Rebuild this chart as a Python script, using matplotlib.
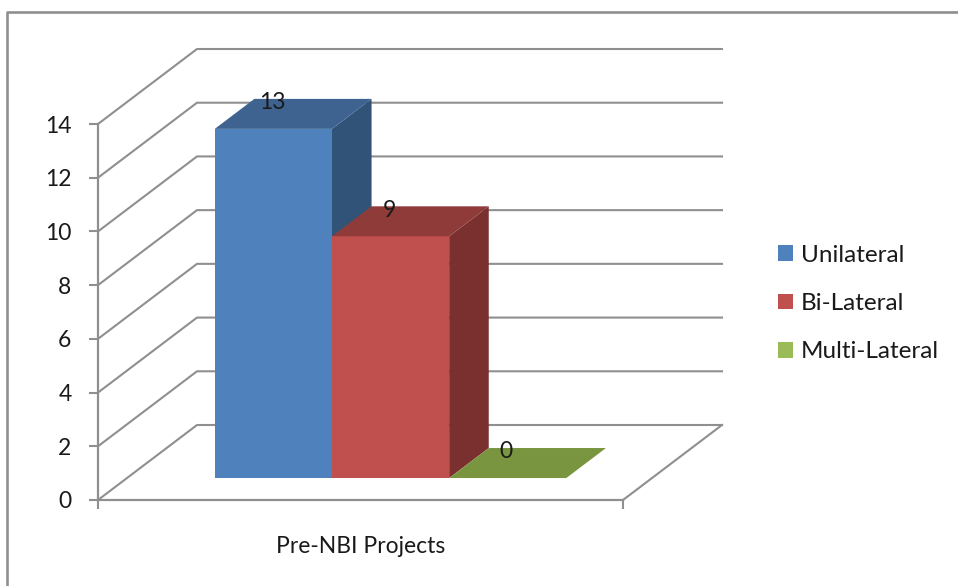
import matplotlib

matplotlib.use("Agg")

import matplotlib.pyplot as plt
from matplotlib.lines import Line2D
from matplotlib.patches import Patch, Polygon


OUTPUT_PATH = "out.png"

# Chart data
category_labels = ["Pre-NBI Projects"]
series_names = ["Unilateral", "Bi-Lateral", "Multi-Lateral"]
series_values = [13, 9, 0]
y_ticks = [0, 2, 4, 6, 8, 10, 12, 14]

# Colours
front_colors = ["#4f81bd", "#c0504d", "#9bbb59"]
top_colors = ["#3e6390", "#8e3b39", "#799540"]
side_colors = ["#325378", "#7a302e", "#62793a"]
GRID_COLOR = "#8f8f8f"
TEXT_COLOR = "#1a1a1a"

# Figure size and plot position in pixels
FIG_W = 958
FIG_H = 586
PLOT_LEFT = 98
PLOT_RIGHT = 623
PLOT_TOP = 124
PLOT_BOTTOM = 500

# The back wall sits this far from the front plane, in pixels
WALL_DX = 99
WALL_DY = 75

# Bars occupy this slice of the floor, 0 = front, 1 = back wall
BAR_FRONT = 0.293
BAR_BACK = 0.693
GAP_RATIO = 1.48
BAR_NUDGE = 0.002


def project(x, y, depth):
    """Shift a point of the front plane back by depth into the fake 3D box."""
    dx = WALL_DX / (PLOT_RIGHT - PLOT_LEFT)
    dy = WALL_DY / ((PLOT_BOTTOM - PLOT_TOP) / max(y_ticks))
    return x + depth * dx, y + depth * dy


def draw_walls(ax):
    for tick in y_ticks:
        xs, ys = zip(project(0, tick, 0), project(0, tick, 1), project(1, tick, 1))
        ax.plot(xs, ys, color=GRID_COLOR, lw=1.5, clip_on=False, zorder=1)

    # right edge of the floor
    xs, ys = zip(project(1, 0, 0), project(1, 0, 1))
    ax.plot(xs, ys, color=GRID_COLOR, lw=1.5, clip_on=False, zorder=1)


def draw_bar(ax, left, width, value, index):
    right = left + width

    front = [
        project(left, 0, BAR_FRONT),
        project(right, 0, BAR_FRONT),
        project(right, value, BAR_FRONT),
        project(left, value, BAR_FRONT),
    ]
    side = [
        project(right, 0, BAR_FRONT),
        project(right, 0, BAR_BACK),
        project(right, value, BAR_BACK),
        project(right, value, BAR_FRONT),
    ]
    top = [
        project(left, value, BAR_FRONT),
        project(right, value, BAR_FRONT),
        project(right, value, BAR_BACK),
        project(left, value, BAR_BACK),
    ]

    zorder = 2 + index
    ax.add_patch(Polygon(side, facecolor=side_colors[index], lw=0, clip_on=False, zorder=zorder))
    ax.add_patch(Polygon(front, facecolor=front_colors[index], lw=0, clip_on=False, zorder=zorder))
    ax.add_patch(Polygon(top, facecolor=top_colors[index], lw=0, clip_on=False, zorder=zorder))

    # data label, offset up from the middle of the front top edge
    ax.annotate(
        str(value),
        xy=project(left + width / 2, value, BAR_FRONT),
        xytext=(-1, 18.8),
        textcoords="offset points",
        ha="center",
        va="center",
        fontsize=16.5,
        color=TEXT_COLOR,
        zorder=10,
    )


def main():
    plt.rcParams["font.family"] = ["Lato", "DejaVu Sans"]

    fig = plt.figure(figsize=(FIG_W / 100, FIG_H / 100), dpi=100, facecolor="white")
    ax = fig.add_axes([
        PLOT_LEFT / FIG_W,
        1 - PLOT_BOTTOM / FIG_H,
        (PLOT_RIGHT - PLOT_LEFT) / FIG_W,
        (PLOT_BOTTOM - PLOT_TOP) / FIG_H,
    ])
    ax.set_xlim(0, 1)
    ax.set_ylim(0, max(y_ticks))
    ax.patch.set_visible(False)

    for name in ["top", "right"]:
        ax.spines[name].set_visible(False)
    for name in ["left", "bottom"]:
        ax.spines[name].set_color(GRID_COLOR)
        ax.spines[name].set_linewidth(1.6)

    ax.set_yticks(y_ticks)
    ax.tick_params(axis="y", length=6.5, width=1.5, color=GRID_COLOR, labelsize=16.5,
                   labelcolor=TEXT_COLOR, pad=12.5)
    ax.set_xticks([0.5])
    ax.set_xticklabels(category_labels)
    ax.tick_params(axis="x", which="major", length=0, labelsize=16.5,
                   labelcolor=TEXT_COLOR, pad=26)
    ax.set_xticks([0, 1], minor=True)
    ax.tick_params(axis="x", which="minor", length=6.5, width=1.5, color=GRID_COLOR)

    draw_walls(ax)

    # Bars and the gap share the category width, gap split on both sides
    bar_width = 1 / (len(series_values) + GAP_RATIO)
    for i, value in enumerate(series_values):
        left = (GAP_RATIO / 2 + i) * bar_width + BAR_NUDGE
        draw_bar(ax, left, bar_width, value, i)

    handles = [Patch(facecolor=c, edgecolor="none") for c in front_colors]
    fig.legend(
        handles,
        series_names,
        loc="center left",
        bbox_to_anchor=(778 / FIG_W, 1 - 303.5 / FIG_H),
        frameon=False,
        fontsize=17.5,
        labelcolor=TEXT_COLOR,
        handlelength=0.62,
        handleheight=0.62,
        handletextpad=0.33,
        labelspacing=1.12,
        borderpad=0,
        borderaxespad=0,
    )

    # Outer frame, cut off by the right and bottom of the image
    border_x = 7 / FIG_W
    border_y = 1 - 12 / FIG_H
    fig.add_artist(Line2D([border_x, border_x, 1], [0, border_y, border_y],
                          color=GRID_COLOR, lw=1.9, transform=fig.transFigure))

    plt.savefig(OUTPUT_PATH, dpi=100)
    plt.close()


if __name__ == "__main__":
    main()
